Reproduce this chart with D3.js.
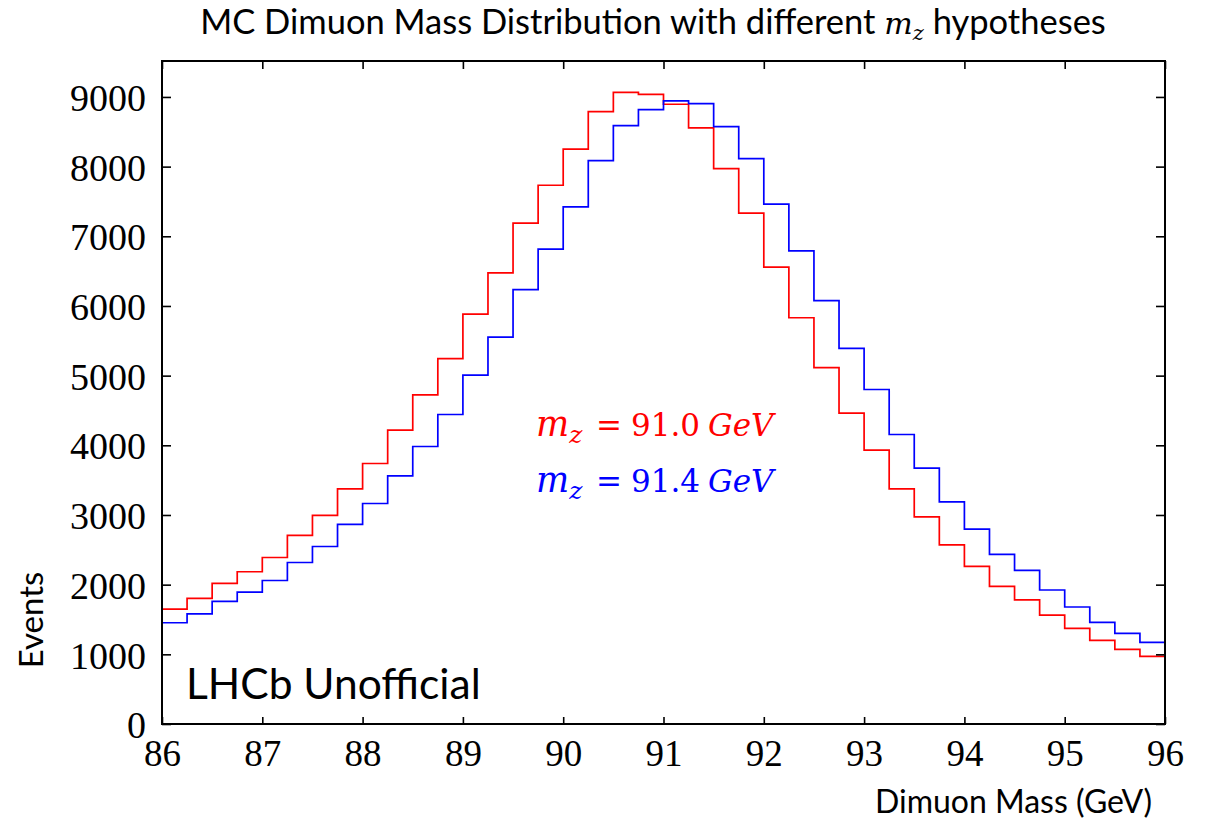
<!DOCTYPE html>
<html>
<head>
<meta charset="utf-8">
<script src="https://cdn.jsdelivr.net/npm/d3@7"></script>
<style>
  body { margin: 0; background: #fff; }
  svg { display: block; }
</style>
</head>
<body>
<svg id="chart"></svg>
<script>
var width = 1209;
var height = 821;
var margin = { top: 61, right: 44, bottom: 97, left: 162 };
var innerWidth = width - margin.left - margin.right;
var innerHeight = height - margin.top - margin.bottom;

// bin edges (GeV)
var binEdges = [86, 86.25, 86.5, 86.75, 87, 87.25, 87.5, 87.75, 88, 88.25,
  88.5, 88.75, 89, 89.25, 89.5, 89.75, 90, 90.25, 90.5, 90.75,
  91, 91.25, 91.5, 91.75, 92, 92.25, 92.5, 92.75, 93, 93.25,
  93.5, 93.75, 94, 94.25, 94.5, 94.75, 95, 95.25, 95.5, 95.75, 96];

// events per bin, m_z = 91.0 GeV
var eventsMz910 = [1650, 1802, 2017, 2185, 2390, 2706, 2993, 3376, 3739, 4218,
  4724, 5245, 5882, 6475, 7188, 7733, 8252, 8789, 9067, 9038,
  8895, 8555, 7972, 7332, 6557, 5831, 5116, 4462, 3931, 3376,
  2974, 2572, 2261, 1974, 1783, 1564, 1372, 1199, 1070, 970];

// events per bin, m_z = 91.4 GeV
var eventsMz914 = [1453, 1582, 1759, 1894, 2060, 2318, 2548, 2864, 3165, 3562,
  3983, 4442, 5007, 5552, 6235, 6815, 7422, 8087, 8589, 8818,
  8943, 8905, 8575, 8116, 7461, 6791, 6076, 5390, 4801, 4155,
  3673, 3189, 2798, 2434, 2204, 1923, 1679, 1458, 1300, 1171];

var xTicks = [86, 87, 88, 89, 90, 91, 92, 93, 94, 95, 96];
var yTicks = [0, 1000, 2000, 3000, 4000, 5000, 6000, 7000, 8000, 9000];

var x = d3.scaleLinear().domain([86, 96]).range([0, innerWidth]);
var y = d3.scaleLinear().domain([0, 9516]).range([innerHeight, 0]);

var svg = d3.select("#chart")
  .attr("width", width)
  .attr("height", height);

var g = svg.append("g")
  .attr("transform", "translate(" + margin.left + "," + margin.top + ")");

function histPoints(values) {
  var pts = values.map(function(v, i) { return [binEdges[i], v]; });
  pts.push([binEdges[binEdges.length - 1], values[values.length - 1]]);
  return pts;
}

var line = d3.line()
  .x(function(d) { return x(d[0]); })
  .y(function(d) { return y(d[1]); })
  .curve(d3.curveStepAfter);

g.append("path")
  .attr("d", line(histPoints(eventsMz910)))
  .attr("fill", "none")
  .attr("stroke", "#ff0000")
  .attr("stroke-width", 1.7);

g.append("path")
  .attr("d", line(histPoints(eventsMz914)))
  .attr("fill", "none")
  .attr("stroke", "#0000ff")
  .attr("stroke-width", 1.7);

// axes, ticks pointing inward
var serif = "'Liberation Serif', 'Times New Roman', serif";
var mathFont = "'DejaVu Serif', serif";

var bottomAxis = g.append("g")
  .attr("transform", "translate(0," + innerHeight + ")")
  .call(d3.axisBottom(x).tickValues(xTicks).tickSize(-7).tickPadding(16).tickSizeOuter(0));
bottomAxis.selectAll("text")
  .attr("dy", "0.71em")
  .style("font-family", serif)
  .style("font-size", "37px")
  .attr("fill", "#000");

var topAxis = g.append("g")
  .call(d3.axisTop(x).tickValues(xTicks).tickSize(-8).tickSizeOuter(0));
topAxis.selectAll("text").remove();

var leftAxis = g.append("g")
  .call(d3.axisLeft(y).tickValues(yTicks).tickSize(-9).tickPadding(16)
    .tickFormat(d3.format("d")).tickSizeOuter(0));
leftAxis.selectAll("text")
  .attr("dy", "0.36em")
  .style("font-family", serif)
  .style("font-size", "38px")
  .attr("fill", "#000");

var rightAxis = g.append("g")
  .attr("transform", "translate(" + innerWidth + ",0)")
  .call(d3.axisRight(y).tickValues(yTicks).tickSize(-9).tickSizeOuter(0));
rightAxis.selectAll("text").remove();

g.selectAll(".domain").remove();
g.selectAll(".tick line").attr("stroke", "#000").attr("stroke-width", 1.6);

// frame
g.append("rect")
  .attr("width", innerWidth)
  .attr("height", innerHeight)
  .attr("fill", "none")
  .attr("stroke", "#000")
  .attr("stroke-width", 2);

var sans = "Lato, 'Open Sans', sans-serif";

// title
var title = svg.append("text")
  .attr("x", 653)
  .attr("y", 34)
  .style("text-anchor", "middle")
  .style("font-family", sans)
  .style("font-size", "34.5px")
  .attr("fill", "#000");
title.append("tspan").text("MC Dimuon Mass Distribution with different ");
title.append("tspan").style("font-family", mathFont).style("font-style", "italic").style("font-size", "30px").text("m");
title.append("tspan").attr("dy", 6).style("font-family", mathFont).style("font-style", "italic").style("font-size", "21px").text("z");
title.append("tspan").attr("dy", -6).text(" hypotheses");

// axis labels
svg.append("text")
  .attr("x", 1152)
  .attr("y", 813)
  .style("text-anchor", "end")
  .style("font-family", sans)
  .style("font-size", "32px")
  .text("Dimuon Mass (GeV)");

svg.append("text")
  .attr("transform", "rotate(-90)")
  .attr("x", -620)
  .attr("y", 43)
  .style("text-anchor", "middle")
  .style("font-family", sans)
  .style("font-size", "33px")
  .text("Events");

svg.append("text")
  .attr("x", 186)
  .attr("y", 699)
  .style("font-family", sans)
  .style("font-size", "42.5px")
  .text("LHCb Unofficial");

// hypothesis labels
var legendLabels = [
  { value: "91.0", color: "#ff0000", base: 436 },
  { value: "91.4", color: "#0000ff", base: 492 }
];
legendLabels.forEach(function(l) {
  var t = svg.append("text")
    .attr("y", l.base)
    .style("font-family", mathFont)
    .style("font-size", "31px")
    .attr("fill", l.color);
  t.append("tspan").attr("x", 536).style("font-style", "italic").style("font-size", "35px").text("m");
  t.append("tspan").attr("dy", 7).style("font-style", "italic").style("font-size", "25px").text("z");
  t.append("tspan").attr("x", 596).attr("dy", -7).text("=");
  t.append("tspan").attr("x", 631).text(l.value);
  t.append("tspan").attr("x", 708).style("font-style", "italic").text("GeV");
});
</script>
</body>
</html>
